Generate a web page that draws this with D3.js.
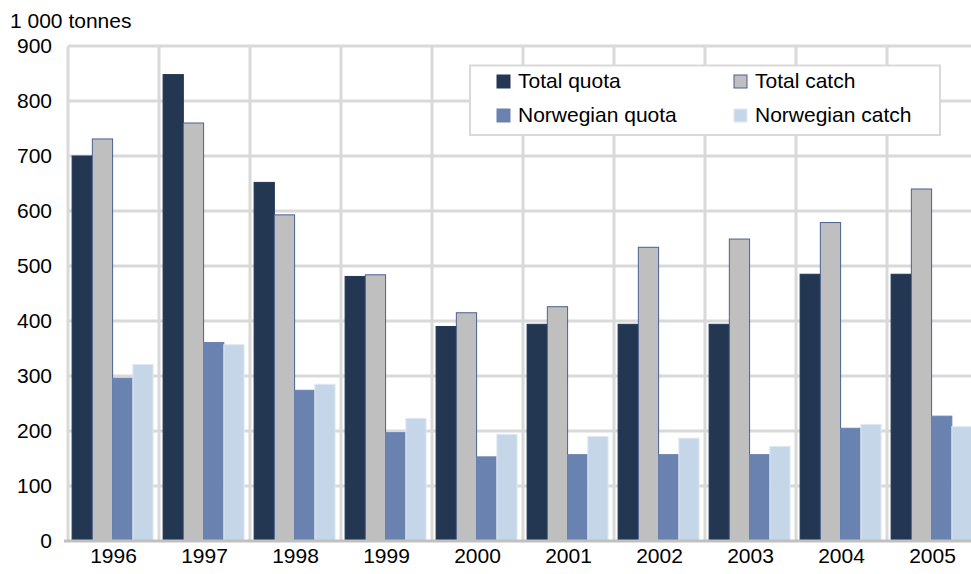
<!DOCTYPE html>
<html>
<head>
<meta charset="utf-8">
<script src="https://cdn.jsdelivr.net/npm/d3@7"></script>
<style>
  html, body { margin: 0; padding: 0; background: #fff; overflow: hidden; }
  svg { display: block; font-family: "Liberation Sans", Arial, sans-serif; }
</style>
</head>
<body>
<svg id="chart" width="971" height="574"></svg>
<script>
const years = ["1996","1997","1998","1999","2000","2001","2002","2003","2004","2005"];
const seriesNames = ["Total quota","Total catch","Norwegian quota","Norwegian catch"];
const totalQuota     = [700, 848, 652, 481, 390, 394, 394, 394, 485, 485];
const totalCatch     = [731, 760, 593, 484, 415, 426, 534, 549, 579, 640];
const norwegianQuota = [296, 361, 274, 197, 153, 157, 157, 157, 205, 227];
const norwegianCatch = [321, 357, 285, 223, 194, 190, 187, 172, 212, 208];
const yTicks = [0,100,200,300,400,500,600,700,800,900];
const unitLabel = "1 000 tonnes";

const colors = ["#233652", "#bfbfbf", "#6a82b0", "#c5d6e8"];
const strokes = ["#233652", "#4a6090", "#6a82b0", "#e0e9f3"];
const allSeries = [totalQuota, totalCatch, norwegianQuota, norwegianCatch];
const fs = 21;

const svg = d3.select("#chart");
const plotLeft = 68, plotRight = 978, plotTop = 46, plotBottom = 541;

const x = d3.scaleBand().domain(years).range([plotLeft, plotRight]).padding(0);
const xs = d3.scaleBand().domain(seriesNames)
  .range([x.bandwidth() * 0.045, x.bandwidth() * 0.935]).padding(0);
const y = d3.scaleLinear().domain([0, 900]).range([plotBottom, plotTop]);

const grid = svg.append("g");
grid.selectAll("line.h").data(yTicks.filter(d => d > 0)).join("line")
  .attr("x1", plotLeft).attr("x2", plotRight)
  .attr("y1", d => y(d)).attr("y2", d => y(d))
  .attr("stroke", "#d9d9d9").attr("stroke-width", 3);
grid.selectAll("line.v").data(years).join("line")
  .attr("x1", d => x(d)).attr("x2", d => x(d))
  .attr("y1", y(900)).attr("y2", plotBottom)
  .attr("stroke", "#d9d9d9").attr("stroke-width", 3);

const groups = svg.append("g").selectAll("g").data(years).join("g")
  .attr("transform", d => `translate(${x(d)},0)`);
groups.selectAll("rect")
  .data((yr, i) => seriesNames.map((s, j) => ({ s, j, v: allSeries[j][i] })))
  .join("rect")
  .attr("x", d => xs(d.s))
  .attr("width", xs.bandwidth())
  .attr("y", d => y(d.v))
  .attr("height", d => y(0) - y(d.v))
  .attr("fill", d => colors[d.j])
  .attr("stroke", d => strokes[d.j])
  .attr("stroke-width", 1);

svg.append("line")
  .attr("x1", plotLeft - 4).attr("x2", plotRight)
  .attr("y1", plotBottom).attr("y2", plotBottom)
  .attr("stroke", "#c0c0c0").attr("stroke-width", 3);

const yAxis = d3.axisLeft(y).tickValues(yTicks).tickSize(0).tickPadding(0);
const ya = svg.append("g").attr("transform", `translate(52,0)`).call(yAxis);
ya.select(".domain").remove();
ya.selectAll("text").attr("font-size", fs).attr("fill", "#000")
  .attr("font-family", "Liberation Sans, Arial, sans-serif");

const xAxis = d3.axisBottom(x).tickSize(0).tickPadding(0);
const xa = svg.append("g").attr("transform", `translate(0,${plotBottom + 7})`).call(xAxis);
xa.select(".domain").remove();
xa.selectAll("text").attr("font-size", fs).attr("fill", "#000")
  .attr("font-family", "Liberation Sans, Arial, sans-serif");

svg.append("text").attr("x", 10).attr("y", 28)
  .attr("font-size", fs).attr("fill", "#000").text(unitLabel);

const lg = svg.append("g");
lg.append("rect").attr("x", 470).attr("y", 65.5).attr("width", 470).attr("height", 69.5)
  .attr("fill", "#fff").attr("stroke", "#d9d9d9").attr("stroke-width", 2);
const legPos = [[497, 81], [734, 81], [497, 115], [734, 115]];
seriesNames.forEach((s, j) => {
  const [lx, ly] = legPos[j];
  lg.append("rect").attr("x", lx).attr("y", ly - 6).attr("width", 13).attr("height", 13)
    .attr("fill", colors[j]).attr("stroke", strokes[j]).attr("stroke-width", 1);
  lg.append("text").attr("x", lx + 21).attr("y", ly + 7)
    .attr("font-size", fs).attr("fill", "#000").text(s);
});
</script>
</body>
</html>
